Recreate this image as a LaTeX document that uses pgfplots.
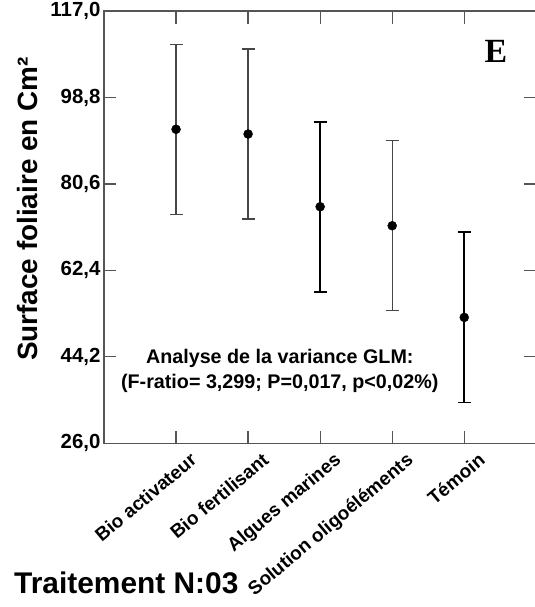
\documentclass[border=0pt]{standalone}
\usepackage{fontspec}
\setmainfont{Liberation Sans}
\newfontfamily\serifbold{Liberation Serif}
\usepackage{pgfplots}
\pgfplotsset{compat=1.18}
\usepackage{pgfplotstable}

% mean leaf area and error half-width for each treatment
\pgfplotstableread{
x  y     err
1  92.1  17.9
2  91.1  17.9
4  71.8  17.9
}\thinbars
\pgfplotstableread{
x  y     err
3  75.8  17.9
5  52.5  17.9
}\thickbars

\definecolor{framegray}{RGB}{85,85,85}
\definecolor{bargray}{RGB}{70,70,70}

\begin{document}
\begin{tikzpicture}
\begin{axis}[
  at={(0,0)}, anchor=south west,
  scale only axis,
  width=432.3bp, height=432.3bp,
  xmin=0, xmax=6,
  ymin=26, ymax=117,
  axis line style={framegray, line width=1.2bp},
  tick style={framegray, line width=1.2bp},
  tick align=inside,
  major tick length=12.5bp,
  xtick={1,2,3,4,5},
  xticklabels={Bio activateur, Bio fertilisant, Algues marines, Solution oligoéléments, Témoin},
  xticklabel style={font=\fontsize{19}{19}\selectfont\bfseries, inner sep=0pt,
    xshift=13bp, yshift=-8bp, rotate=40, anchor=north east},
  ytick={26,44.2,62.4,80.6,98.8,117},
  yticklabel style={font=\fontsize{20.5}{20.5}\selectfont\bfseries},
  /pgf/number format/.cd, fixed, fixed zerofill, precision=1, use comma, assume math mode=true,
]
\addplot[only marks, mark=*, mark size=4.5bp, black,
  error bars/.cd, y dir=both, y explicit,
  error bar style={bargray, line width=1.2bp},
  error mark options={rotate=90, mark size=6.5bp, bargray, line width=1.2bp}]
  table[x=x, y=y, y error=err] {\thinbars};
\addplot[only marks, mark=*, mark size=4.5bp, black,
  error bars/.cd, y dir=both, y explicit,
  error bar style={black, line width=1.8bp},
  error mark options={rotate=90, mark size=6.5bp, black, line width=1.8bp}]
  table[x=x, y=y, y error=err] {\thickbars};
\node[align=center, font=\fontsize{19.8}{24.5}\selectfont\bfseries]
  at (axis cs:2.44,41.2) {Analyse de la variance GLM:\\(F-ratio= 3,299; P=0,017, p<0,02\%)};
\node[font=\fontsize{34}{34}\selectfont\serifbold\bfseries] at (axis cs:5.44,108.4) {E};
\end{axis}
\node[rotate=90, font=\fontsize{28}{28}\selectfont\bfseries] at (-76bp,234.3bp) {Surface foliaire en Cm²};
\node[anchor=base west, inner sep=0pt, font=\fontsize{30}{30}\selectfont\bfseries] at (-90bp,-149.7bp) {Traitement N:03};
\pgfresetboundingbox
\useasboundingbox (-104bp,-163.7bp) rectangle (431bp,443.3bp);
\end{tikzpicture}
\end{document}
